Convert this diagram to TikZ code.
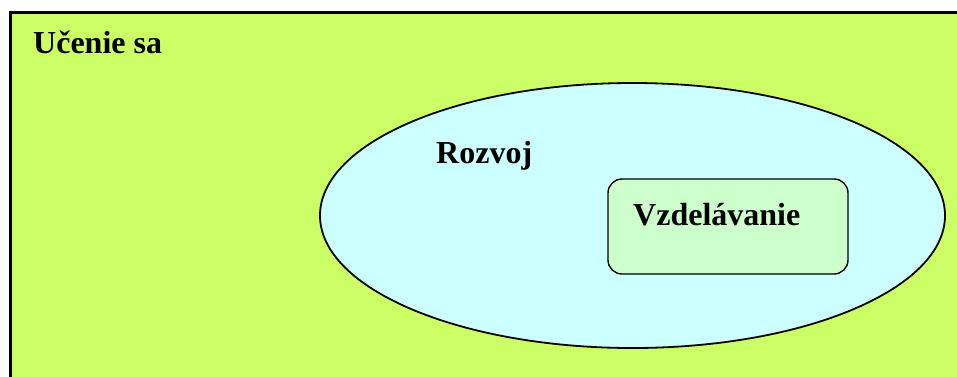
\documentclass[tikz,border=0pt]{standalone}
\usepackage{fontspec}
\setmainfont{Liberation Serif}
\begin{document}
\begin{tikzpicture}[x=1pt,y=-1pt,
  lbl/.style={font=\fontsize{32}{36}\selectfont\bfseries, anchor=base west, inner sep=0pt},
  region/.style={draw=black, line width=1.8pt}]
\useasboundingbox (0,0) rectangle (957,376);
\clip (0,0) rectangle (957,376);
% outer area: learning
\node[region, line width=2.6pt, fill={rgb,255:red,204;green,255;blue,102}, rectangle, minimum width=970pt, minimum height=380pt, anchor=north west, inner sep=0pt] (learn) at (9,11) {};
% development ellipse
\draw[region, fill={rgb,255:red,204;green,255;blue,255}] (632.5,215.5) ellipse [x radius=312.5, y radius=132.5];
\coordinate (dev) at (632.5,215.5);
% education box
\node[region, line width=1.4pt, fill={rgb,255:red,204;green,255;blue,204}, rounded corners=14pt, minimum width=240pt, minimum height=95pt, inner sep=0pt] (edu) at (728,226.5) {};
\node[lbl] (tlearn) at (33,53) {Učenie sa};
\node[lbl] (tdev) at (436,163) {Rozvoj};
\node[lbl] (tedu) at (633,225) {Vzdelávanie};
\end{tikzpicture}
\end{document}
